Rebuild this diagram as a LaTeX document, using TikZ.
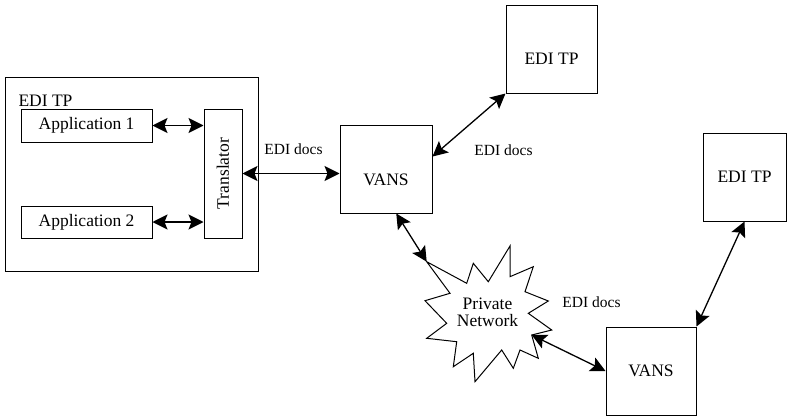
\documentclass[tikz,border=0pt]{standalone}
\usepackage{fontspec}
\usepackage{graphicx}
\setmainfont{Liberation Serif}
\usetikzlibrary{arrows.meta}

\tikzstyle{pt} = [coordinate]
\tikzstyle{box} = [draw=black, line width=1pt, inner sep=0, font=\fontsize{17.5}{20}\selectfont]
\tikzstyle{lbl} = [inner sep=0, font=\fontsize{17.5}{20}\selectfont]
\tikzstyle{doc} = [inner sep=0, font=\fontsize{15.5}{18}\selectfont]
\tikzstyle{flow} = [{Stealth[length=15pt,width=15pt,inset=3pt]}-{Stealth[length=15pt,width=15pt,inset=3pt]}, line width=1.3pt]

\begin{document}
\begin{tikzpicture}[x=1pt,y=-1pt]
\useasboundingbox (0,0) rectangle (787,420);

%Nodes
	\node[box, minimum width=253, minimum height=193] (tpleft) at (131.5,174.5) {};
	\node[lbl] (tplefttxt) at (45.5,101) {EDI TP};
	\node[box, minimum width=131, minimum height=33] (app1) at (86.5,125.5) {Application 1};
	\node[box, minimum width=131, minimum height=32] (app2) at (86.5,222) {Application 2};
	\node[box, minimum width=38, minimum height=129] (trans) at (223,173.5) {\rotatebox{90}{Translator}};

	\node[box, minimum width=92, minimum height=88, text height=36pt, text depth=4pt] (vans1) at (386,169) {VANS};
	\node[box, minimum width=91, minimum height=87, text height=34pt, text depth=4pt] (tptop) at (551.5,49.5) {EDI TP};
	\node[box, minimum width=83, minimum height=88] (tpright) at (744.5,177) {EDI TP};
	\node[box, minimum width=90, minimum height=88] (vans2) at (651,371) {VANS};

	\node[doc] (doc1) at (293.5,149) {EDI docs};
	\node[doc] (doc2) at (503.5,150) {EDI docs};
	\node[doc] (doc3) at (591.5,302) {EDI docs};

	% private network
	\draw[line width=1pt] (426.7,261.7) -- (466.7,283.3) -- (473.3,263.3) -- (488.3,281.7)
		-- (510,246) -- (510,276.7) -- (533.3,266.7) -- (525,291.7) -- (548.3,301)
		-- (528.3,313.3) -- (551.7,330) -- (531.7,335) -- (538.3,358.3) -- (520,350)
		-- (513.3,368.3) -- (501.7,350) -- (475,381.7) -- (473.3,353.3) -- (453.3,366.7)
		-- (456.7,341.7) -- (426.7,338.3) -- (446.7,323.3) -- (425,300.7) -- (450,293.3) -- cycle;
	\node[lbl, align=center] (net) at (487.5,312) {Private\\[-3pt]Network};
	\node[pt] (netin) at (426.7,261.7) {};
	\node[pt] (netout) at (531.7,335) {};

%Connections
	\draw[flow] (app1.east) -- (app1.east -| trans.west);
	\draw[flow] (app2.east) -- (app2.east -| trans.west);
	\draw[flow] (trans.east) -- (trans.east -| vans1.west);
	\draw[flow] (vans1.15) -- (tptop.south west);
	\draw[flow] (vans1.-77) -- (netin);
	\draw[flow] (netout) -- (vans2.west);
	\draw[flow] (vans2.north east) -- (tpright.south);

\end{tikzpicture}
\end{document}
